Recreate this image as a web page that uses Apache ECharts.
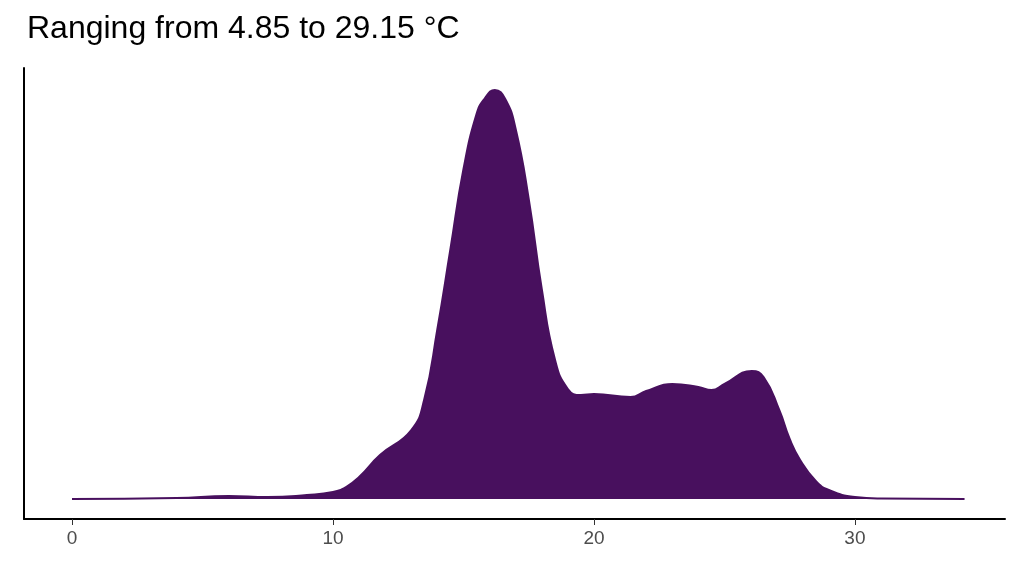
<!DOCTYPE html><html><head><meta charset="utf-8"><script src="https://cdn.jsdelivr.net/npm/echarts@6/dist/echarts.min.js"></script></head><body style="margin:0"><div id="c" style="width:1024px;height:576px"></div><script>
const temps=[0,4,6,7.5,9,10,10.5,11,11.8,13,13.5,14,14.5,15,15.5,15.8,16.2,16.6,17,17.5,18,18.5,19,19.5,20,21.4,22,23,24,24.5,25,26.05,26.5,27.1,27.5,27.9,28.5,29,30,31,34.2];
const density=[0,1,3,2,4,7,12,22,44,69,100,170,250,330,385,400,409,400,370,300,210,140,110,104,105,102,108,115,112,109,115,128,122,89,60,39,18,9,2,0.5,0];
const xTicks=[0,10,20,30];
const ch=echarts.init(document.getElementById('c'));
ch.setOption({animation:false,
title:{text:'Ranging from 4.85 to 29.15 °C',left:22,top:8,textStyle:{fontFamily:'Liberation Sans',fontSize:32,fontWeight:'normal',color:'#000'}},
grid:{left:24,right:19,top:68,bottom:57},
xAxis:{type:'value',min:-1.84,max:35.75,splitLine:{show:false},
axisLine:{onZero:false,lineStyle:{color:'#000',width:2}},
axisTick:{customValues:xTicks,length:6,lineStyle:{color:'#333'}},
axisLabel:{customValues:xTicks,color:'#4d4d4d',fontSize:19,fontFamily:'Liberation Sans',margin:10}},
yAxis:{type:'value',min:-20,max:431,splitLine:{show:false},axisLabel:{show:false},axisTick:{show:false},axisLine:{show:true,onZero:false,lineStyle:{color:'#000',width:2}}},
series:[{type:'line',smooth:0.5,symbol:'none',data:temps.map((t,i)=>[t,density[i]]),lineStyle:{color:'#48105E',width:2},areaStyle:{color:'#48105E',opacity:1,origin:0}}]});
</script></body></html>
